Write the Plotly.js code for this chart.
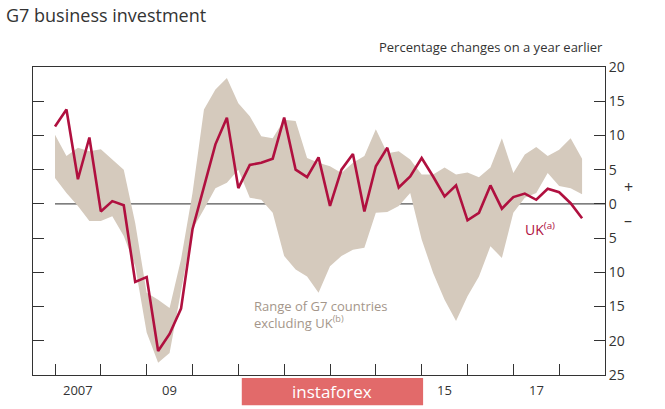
<!DOCTYPE html>
<html>
<head>
<meta charset="utf-8">
<script src="https://cdn.plot.ly/plotly-3.0.1.min.js"></script>
<style>body{margin:0;background:#fff}#chart{width:665px;height:409px}</style>
</head>
<body>
<div id="chart"></div>
<script>
// quarterly, 2007 Q1 to 2018 Q3
var ukVals = [11.3, 13.8, 3.6, 9.7, -1.1, 0.4, -0.2, -11.4, -10.7, -21.5, -19.0, -15.3,
  -3.7, 2.6, 8.7, 12.6, 2.3, 5.7, 6.0, 6.6, 12.6, 5.0, 3.9, 6.8, -0.3,
  5.0, 7.3, -1.1, 5.5, 8.2, 2.4, 4.0, 6.7, 4.0, 1.1, 2.7, -2.4, -1.3, 2.7, -0.7,
  1.0, 1.5, 0.6, 2.2, 1.7, 0.1, -2.1];
var g7High = [10.1, 7.0, 8.2, 7.7, 8.0, 6.5, 5.0, -2.8, -13.0, -14.0, -15.2, -8.1,
  1.6, 13.8, 16.7, 18.4, 14.7, 12.8, 9.9, 9.6, 12.3, 12.1, 6.7, 6.0, 5.5,
  4.5, 6.0, 7.0, 10.9, 7.4, 7.7, 6.5, 4.3, 4.3, 5.3, 4.3, 4.6, 3.9, 5.3, 9.6,
  4.5, 7.2, 8.3, 7.0, 7.9, 9.6, 6.6];
var g7Low = [3.8, 1.6, -0.3, -2.5, -2.5, -1.8, -4.7, -9.1, -18.8, -23.2, -21.8, -13.0,
  -3.7, -0.8, 2.3, 3.1, 5.0, 0.9, 0.6, -1.3, -7.6, -9.6, -10.6, -13.0, -9.1,
  -7.6, -6.7, -6.4, -1.3, -1.2, -0.3, 1.6, -5.2, -10.1, -14.0, -17.1, -13.5, -10.6, -6.2, -7.9,
  -1.3, 0.9, 1.6, 4.5, 2.6, 2.3, 1.4];
var quarters = ukVals.map(function(v, i) { return 2007 + i / 4; });

var yTicks = [20, 15, 10, 5, 0, -5, -10, -15, -20, -25];
var yLabels = ['20', '15', '10', '5', '0', '5', '10', '15', '20', '25'];
var yearTicks = [2007, 2008, 2009, 2010, 2011, 2012, 2013, 2014, 2015, 2016, 2017, 2018];
var yearLabelPos = [2007.5, 2009.5, 2015.5, 2017.5];
var yearLabels = ['2007', '09', '15', '17'];

var band = '#d5cabd';
var red = '#b0103f';

var traces = [
  {x: quarters, y: g7High, type: 'scatter', mode: 'lines', line: {width: 0, color: band}, hoverinfo: 'skip'},
  {x: quarters, y: g7Low, type: 'scatter', mode: 'lines', line: {width: 0, color: band}, fill: 'tonexty', fillcolor: band, hoverinfo: 'skip'},
  {x: quarters, y: ukVals, type: 'scatter', mode: 'lines', line: {width: 2.6, color: red}}
];

var ann = yearLabels.map(function(t, i) {
  return {x: yearLabelPos[i], y: 0, yref: 'paper', yanchor: 'top', yshift: -4, text: t, showarrow: false,
    font: {size: 13, color: '#333'}};
});
ann.push(
  {xref: 'paper', yref: 'paper', x: -0.05, y: 1.17, xanchor: 'left', yanchor: 'middle', text: 'G7 business investment', showarrow: false,
    font: {size: 18, color: '#333'}},
  {xref: 'paper', yref: 'paper', x: 1.0, y: 1.03, xanchor: 'right', yanchor: 'bottom', text: 'Percentage changes on a year earlier', showarrow: false,
    font: {size: 13, color: '#333'}},
  {xref: 'paper', x: 1.03, y: 2.4, xanchor: 'left', text: '+', showarrow: false, font: {size: 16, color: '#333'}},
  {xref: 'paper', x: 1.03, y: -2.4, xanchor: 'left', text: '\u2013', showarrow: false, font: {size: 16, color: '#333'}},
  {x: 2011.3, y: -16.2, xanchor: 'left', align: 'left', text: 'Range of G7 countries<br>excluding UK<sup>(b)</sup>', showarrow: false,
    font: {size: 13, color: '#a4968a'}},
  {x: 2017.2, y: -3.6, xanchor: 'left', text: 'UK<sup>(a)</sup>', showarrow: false, font: {size: 14, color: red}},
  {xref: 'paper', yref: 'paper', x: 0.5235, y: -0.054, xanchor: 'center', yanchor: 'middle', text: 'instaforex', showarrow: false,
    font: {size: 17, color: '#fff'}}
);

var layout = {
  width: 665, height: 409,
  margin: {l: 33, r: 60, t: 67, b: 34},
  paper_bgcolor: '#fff', plot_bgcolor: '#fff',
  font: {family: 'Open Sans, sans-serif', color: '#333'},
  showlegend: false,
  xaxis: {range: [2006.52, 2019.0], tickvals: yearTicks, showticklabels: false, ticks: 'inside', ticklen: 11,
    tickcolor: '#333', showgrid: false, zeroline: false, showline: true, linecolor: '#333', mirror: true},
  yaxis: {range: [-25, 20], side: 'right', tickvals: yTicks, ticktext: yLabels, ticks: 'inside', ticklen: 11,
    tickcolor: '#333', mirror: 'ticks', showgrid: false, zeroline: false, showline: true, linecolor: '#333',
    tickfont: {size: 14, color: '#333'}},
  shapes: [
    {type: 'line', x0: 2007, x1: 2019.0, y0: 0, y1: 0, line: {color: '#555', width: 1.2}, layer: 'below'},
    {type: 'rect', xref: 'paper', yref: 'paper', x0: 0.365, x1: 0.682, y0: -0.01, y1: -0.098,
      fillcolor: '#e26a6a', line: {width: 0}}
  ],
  annotations: ann
};

Plotly.newPlot('chart', traces, layout, {displayModeBar: false});
</script>
</body>
</html>
